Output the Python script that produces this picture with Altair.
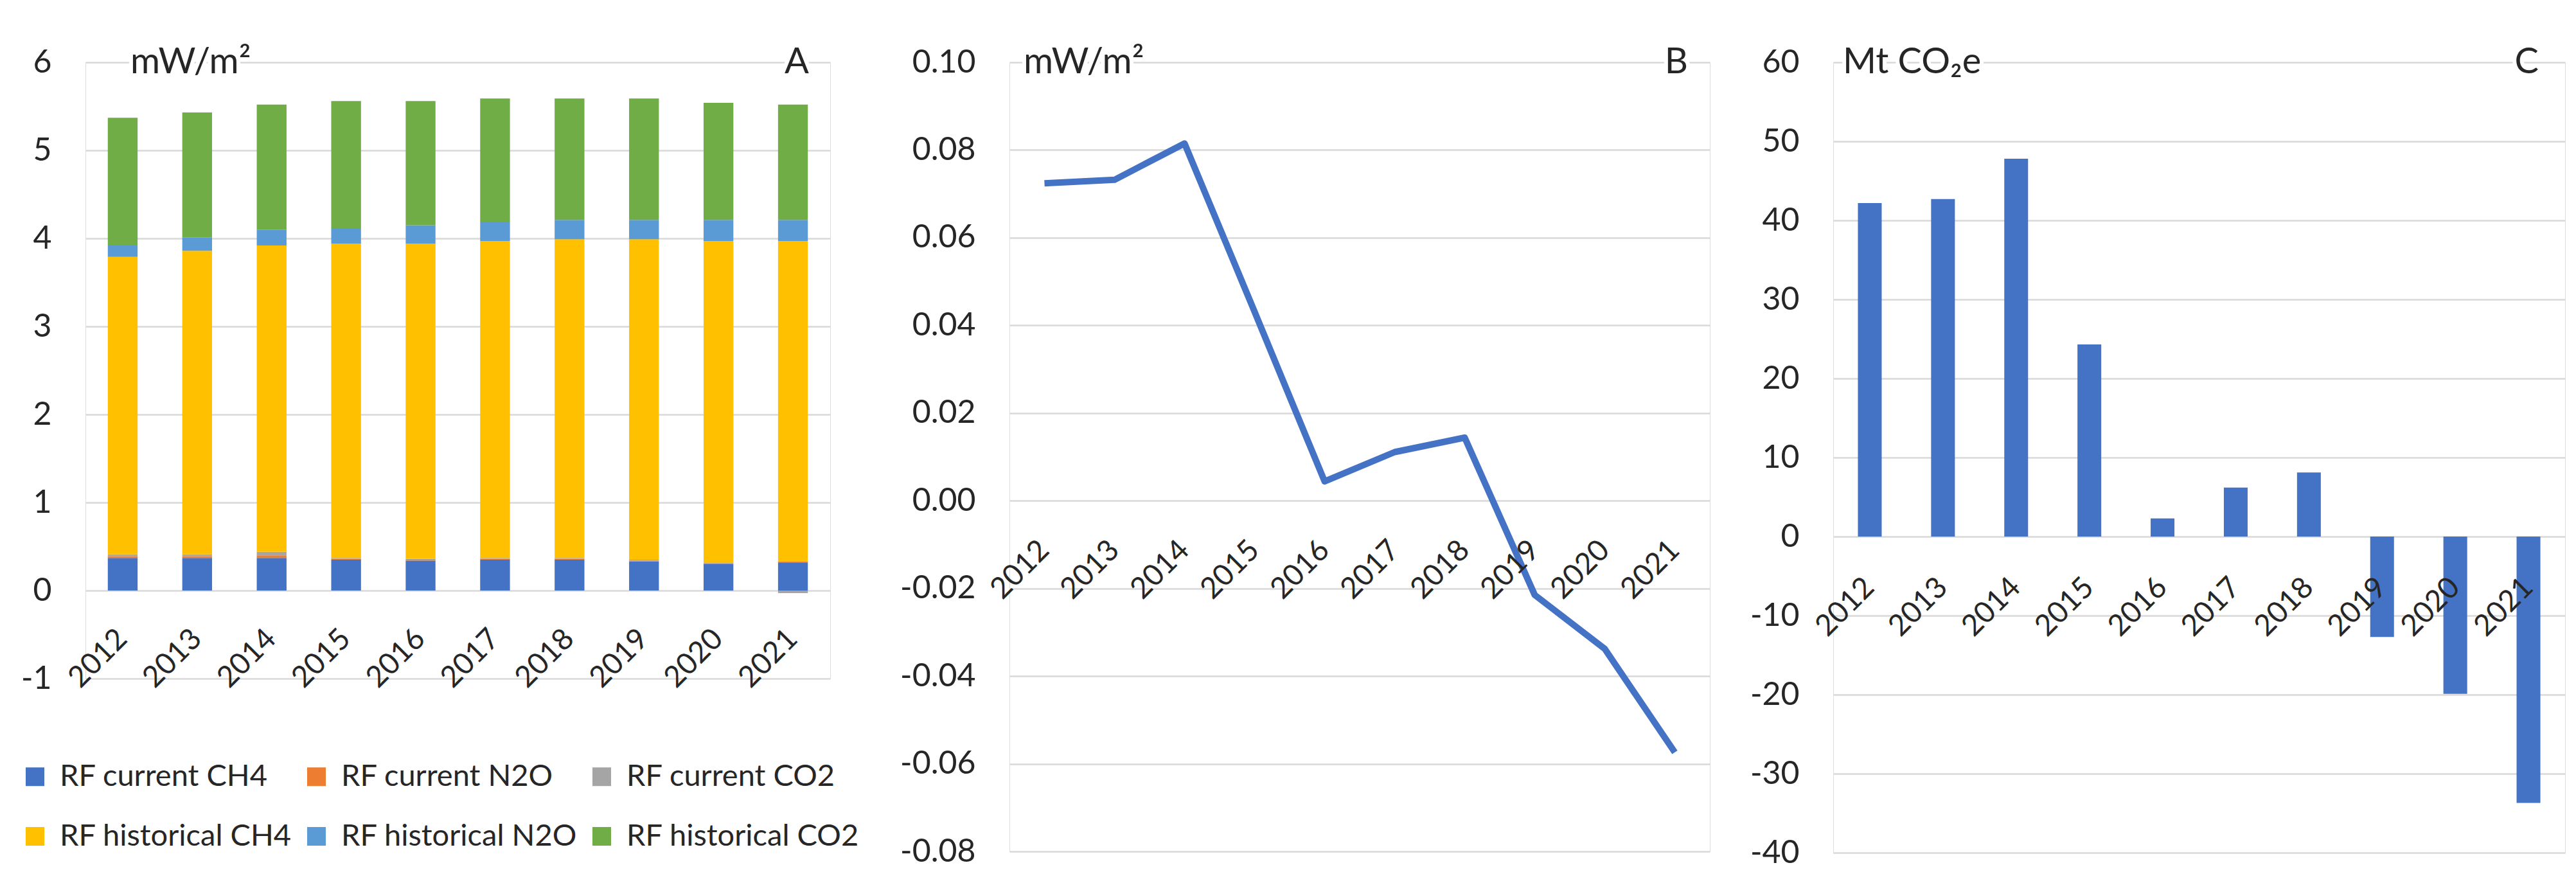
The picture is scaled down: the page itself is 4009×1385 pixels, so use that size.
import altair as alt
import pandas as pd

# ---------------- data ----------------
years = ["2012", "2013", "2014", "2015", "2016", "2017", "2018", "2019", "2020", "2021"]

series_names = ["RF current CH4", "RF current N2O", "RF current CO2",
                "RF historical CH4", "RF historical N2O", "RF historical CO2"]
series_colors = ["#4472C4", "#ED7D31", "#A5A5A5", "#FFC000", "#5B9BD5", "#70AD47"]

rf_current_ch4 = [0.37, 0.37, 0.37, 0.35, 0.34, 0.35, 0.35, 0.33, 0.30, 0.32]
rf_current_n2o = [0.02, 0.02, 0.03, 0.01, 0.01, 0.01, 0.01, 0.01, 0.01, 0.01]
rf_current_co2 = [0.02, 0.02, 0.04, 0.01, 0.01, 0.01, 0.01, 0.01, 0.01, -0.03]
rf_hist_ch4 = [3.38, 3.45, 3.48, 3.57, 3.58, 3.60, 3.62, 3.64, 3.65, 3.64]
rf_hist_n2o = [0.13, 0.15, 0.18, 0.17, 0.21, 0.22, 0.22, 0.22, 0.24, 0.24]
rf_hist_co2 = [1.45, 1.42, 1.42, 1.45, 1.41, 1.40, 1.38, 1.38, 1.33, 1.31]

rf_change = [0.0724, 0.0732, 0.0815, 0.0431, 0.0044, 0.0111, 0.0144, -0.0215, -0.0338, -0.0574]

emissions = [42.2, 42.7, 47.8, 24.3, 2.3, 6.2, 8.1, -12.7, -19.9, -33.7]

unit_a = "mW/m²"
unit_b = "mW/m²"
unit_c = "Mt CO₂e"

# ---------------- tables ----------------
rows = []
for k, vals in enumerate([rf_current_ch4, rf_current_n2o, rf_current_co2,
                          rf_hist_ch4, rf_hist_n2o, rf_hist_co2]):
    for yr, v in zip(years, vals):
        rows.append({"year": yr, "series": series_names[k], "k": k, "value": v})
df_a = pd.DataFrame(rows)
df_b = pd.DataFrame({"year": years, "value": rf_change})
df_c = pd.DataFrame({"year": years, "value": emissions})

# ---------------- style ----------------
FONT = "Lato"
TXT = "#262626"
GRID = "#d9d9d9"
BLUE = "#4472C4"
TICK_FS = 50
XLAB_FS = 46
UNIT_FS = 56


def x_axis(offset, pad):
    return alt.Axis(labelAngle=-45, labelAlign="right", labelBaseline="top",
                    labelFontSize=XLAB_FS, labelFont=FONT, labelColor=TXT,
                    domain=False, ticks=False, tickSize=0, grid=False,
                    labelPadding=pad, labelOffset=-16, offset=offset, zindex=1)


def y_axis(values, fmt, extent):
    return alt.Axis(values=values,
                    labelExpr=f"datum.value < 0 ? '-' + format(-datum.value, '{fmt}') : format(datum.value, '{fmt}')",
                    labelFontSize=TICK_FS, labelFont=FONT, labelColor=TXT,
                    labelPadding=53, domain=False, ticks=False, tickSize=0,
                    gridColor=GRID, gridWidth=2.5, minExtent=extent, maxExtent=extent,
                    zindex=0)


def corner_texts(unit, letter, ytop, unit_x, letter_x):
    base = alt.Chart(pd.DataFrame({"t": [unit], "l": [letter]}))
    common = dict(baseline="middle", font=FONT, fontSize=UNIT_FS)
    halo = base.mark_text(align="left", fill="white", stroke="white", strokeWidth=12, **common).encode(
        x=alt.value(unit_x), y=alt.datum(ytop), text="t:N")
    unit_t = base.mark_text(align="left", color=TXT, **common).encode(
        x=alt.value(unit_x), y=alt.datum(ytop), text="t:N")
    halo_l = base.mark_text(align="right", fill="white", stroke="white", strokeWidth=12, **common).encode(
        x=alt.value(letter_x), y=alt.datum(ytop), text="l:N")
    let_t = base.mark_text(align="right", color=TXT, **common).encode(
        x=alt.value(letter_x), y=alt.datum(ytop), text="l:N")
    return [halo, unit_t, halo_l, let_t]


# ---------------- panel A ----------------
WA, HA = 1159, 959
A_LO, A_HI = -1, 6
off_a = -int(round(HA * (0 - A_LO) / (A_HI - A_LO)))

bars_a = alt.Chart(df_a).mark_bar().encode(
    x=alt.X("year:N", title=None, sort=years,
            scale=alt.Scale(paddingInner=0.6, paddingOuter=0.3), axis=x_axis(off_a, 52)),
    y=alt.Y("value:Q", title=None, stack="zero",
            scale=alt.Scale(domain=[A_LO, A_HI], nice=False, zero=False),
            axis=y_axis(list(range(-1, 7)), "d", 100)),
    color=alt.Color("series:N", sort=series_names,
                    scale=alt.Scale(domain=series_names, range=series_colors),
                    legend=alt.Legend(title=None, orient="none", legendX=-102, legendY=1088,
                                      columns=3, direction="horizontal",
                                      symbolType="square", symbolSize=841,
                                      symbolStrokeWidth=0, labelFontSize=47,
                                      labelFont=FONT, labelColor=TXT, labelOffset=15,
                                      columnPadding=14, rowPadding=45, labelLimit=0)),
    order=alt.Order("k:Q"),
)
panel_a = alt.layer(bars_a, *corner_texts(unit_a, "A", A_HI, 70, WA - 33)).properties(
    width=WA, height=HA)

# ---------------- panel B ----------------
WB, HB = 1090, 1228
B_LO, B_HI = -0.08, 0.10
off_b = -int(round(HB * (0 - B_LO) / (B_HI - B_LO)))

line_b = alt.Chart(df_b).mark_line(color=BLUE, strokeWidth=10, strokeJoin="round").encode(
    x=alt.X("year:N", title=None, sort=years,
            scale=alt.Scale(type="point", padding=0.5), axis=x_axis(off_b, 54)),
    y=alt.Y("value:Q", title=None,
            scale=alt.Scale(domain=[B_LO, B_HI], nice=False, zero=False),
            axis=y_axis([-0.08, -0.06, -0.04, -0.02, 0.0, 0.02, 0.04, 0.06, 0.08, 0.10], ".2f", 217)),
)
panel_b = alt.layer(line_b, *corner_texts(unit_b, "B", B_HI, 22, WB - 34)).properties(
    width=WB, height=HB)

# ---------------- panel C ----------------
WC, HC = 1139, 1230
C_LO, C_HI = -40, 60
off_c = -int(round(HC * (0 - C_LO) / (C_HI - C_LO)))

bars_c = alt.Chart(df_c).mark_bar(color=BLUE).encode(
    x=alt.X("year:N", title=None, sort=years,
            scale=alt.Scale(paddingInner=0.675, paddingOuter=0.3375), axis=x_axis(off_c, 56)),
    y=alt.Y("value:Q", title=None,
            scale=alt.Scale(domain=[C_LO, C_HI], nice=False, zero=False),
            axis=y_axis(list(range(-40, 61, 10)), "d", 113)),
)
panel_c = alt.layer(bars_c, *corner_texts(unit_c, "C", C_HI, 15, WC - 41)).properties(
    width=WC, height=HC)

chart = alt.hconcat(panel_a, panel_b, panel_c, spacing=60).properties(
    padding={"left": 23, "top": 60, "right": 5, "bottom": 5},
    background="white",
).configure_view(stroke=None).configure(font=FONT)

chart.save("out.html", embed_options={"renderer": "svg", "actions": False})
